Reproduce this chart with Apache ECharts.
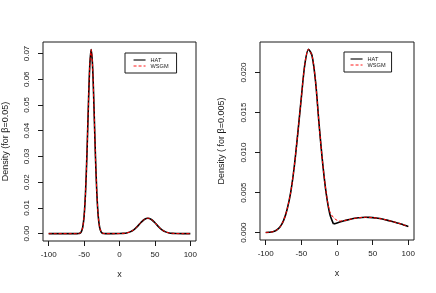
<!DOCTYPE html>
<html><head><meta charset="utf-8">
<script src="https://cdn.jsdelivr.net/npm/echarts@6/dist/echarts.min.js"></script>
<style>html,body{margin:0;padding:0;background:#fff}#c{width:436px;height:293px}</style>
</head><body><div id="c"></div>
<script>
// ---- tick labels ----
const xTicks = [-100, -50, 0, 50, 100];
const xTickLabels = ['-100', '-50', '0', '50', '100'];
const leftYTicks = [0, 0.01, 0.02, 0.03, 0.04, 0.05, 0.06, 0.07];
const leftYLabels = ['0.00', '0.01', '0.02', '0.03', '0.04', '0.05', '0.06', '0.07'];
const rightYTicks = [0, 0.005, 0.01, 0.015, 0.02];
const rightYLabels = ['0.000', '0.005', '0.010', '0.015', '0.020'];
const seriesNames = ['HAT', 'WSGM'];
const leftYTitle = 'Density (for \u03b2=0.05)';
const rightYTitle = 'Density ( for \u03b2=0.005)';
const xTitle = 'x';

// ---- left panel (beta = 0.05) ----
const leftX = [-100, -90, -80, -70, -62, -60, -58, -56, -54, -52, -50, -48, -46, -44, -42, -40, -38, -36, -34, -32, -30, -28, -26, -24, -22, -20, -10, 0, 5, 10, 15, 20, 25, 30, 35, 40, 45, 50, 55, 60, 65, 70, 75, 80, 90, 100];
const leftHAT = [0, 0, 0, 0, 0, 0.000006, 0.000034, 0.00017, 0.0007, 0.00238, 0.00673, 0.0158, 0.0305, 0.049, 0.0651, 0.0715, 0.0651, 0.049, 0.0305, 0.0158, 0.00673, 0.00238, 0.0007, 0.00017, 0.000034, 0.000005, 0.000001, 0.00003, 0.00009, 0.00026, 0.00068, 0.0015, 0.00275, 0.00424, 0.0055, 0.006, 0.0055, 0.00424, 0.00275, 0.0015, 0.00068, 0.00026, 0.00009, 0.00003, 0, 0];
const leftWSGM = [0, 0, 0, 0, 0, 0.000006, 0.000034, 0.00017, 0.0007, 0.00238, 0.00673, 0.0158, 0.0305, 0.049, 0.0651, 0.0715, 0.0651, 0.049, 0.0305, 0.0158, 0.00673, 0.00238, 0.0007, 0.00017, 0.000034, 0.000005, 0.000001, 0.00003, 0.00009, 0.00026, 0.00068, 0.0015, 0.00275, 0.00424, 0.0055, 0.006, 0.0055, 0.00424, 0.00275, 0.0015, 0.00068, 0.00026, 0.00009, 0.00003, 0, 0];

// ---- right panel (beta = 0.005) ----
const rightXa = [-100, -95, -90, -85, -80, -75, -70, -65, -60, -55, -50, -45, -40, -35, -30, -25, -20, -15, -10, -5];
const rightHATa = [0.00002, 0.00005, 0.00012, 0.0003, 0.0007, 0.0015, 0.0029, 0.005, 0.0082, 0.0124, 0.0169, 0.0211, 0.0229, 0.0221, 0.0188, 0.0134, 0.0086, 0.0048, 0.0023, 0.0011];
const rightXb = [-5, 0, 5, 10, 15, 20, 25, 30, 35, 40, 45, 50, 55, 60, 65, 70, 75, 80, 85, 90, 95, 100];
const rightHATb = [0.0011, 0.00122, 0.00136, 0.00149, 0.0016, 0.0017, 0.00179, 0.00186, 0.0019, 0.00192, 0.00191, 0.00188, 0.00183, 0.00176, 0.00167, 0.00157, 0.00146, 0.00134, 0.00121, 0.00108, 0.00092, 0.00076];
const rightX = [-100, -95, -90, -85, -80, -75, -70, -65, -60, -55, -50, -45, -40, -35, -30, -25, -20, -15, -10, -5, 0, 5, 10, 15, 20, 25, 30, 35, 40, 45, 50, 55, 60, 65, 70, 75, 80, 85, 90, 95, 100];
const rightWSGM = [0.00002, 0.00005, 0.00012, 0.0003, 0.0007, 0.0015, 0.0029, 0.005, 0.0082, 0.0124, 0.0169, 0.0211, 0.0229, 0.0221, 0.0188, 0.0134, 0.0086, 0.0049, 0.0026, 0.0019, 0.00155, 0.00145, 0.0015, 0.0016, 0.0017, 0.00179, 0.00186, 0.0019, 0.00192, 0.00191, 0.00188, 0.00183, 0.00176, 0.00167, 0.00157, 0.00146, 0.00134, 0.00121, 0.00108, 0.00092, 0.00076];

const FF = '"Liberation Sans", Arial, Helvetica, sans-serif';
const INK = '#1a1a1a';
const zip = (xs, ys) => xs.map((x, i) => [x, ys[i]]);
const lab = (ticks, labels) => v => { for (let i = 0; i < ticks.length; i++) if (Math.abs(ticks[i] - v) < 1e-9) return labels[i]; return ''; };

function xAxis(gi) {
  return {
    type: 'value', gridIndex: gi, min: -108, max: 108, position: 'bottom',
    axisLine: { show: false, onZero: false }, splitLine: { show: false },
    axisTick: { show: true, length: 5, customValues: xTicks, lineStyle: { color: INK, width: 1 } },
    axisLabel: { customValues: xTicks, margin: 10, fontSize: 8, color: INK, fontFamily: FF, formatter: lab(xTicks, xTickLabels) },
    name: xTitle, nameLocation: 'middle', nameGap: 29,
    nameTextStyle: { fontSize: 9, color: INK, fontFamily: FF }
  };
}
function yAxis(gi, min, max, ticks, labels, title, gap) {
  return {
    type: 'value', gridIndex: gi, min: min, max: max, position: 'left',
    axisLine: { show: false, onZero: false }, splitLine: { show: false },
    axisTick: { show: true, length: 5, customValues: ticks, lineStyle: { color: INK, width: 1 } },
    axisLabel: { customValues: ticks, rotate: 90, margin: 12, fontSize: 8, color: INK, fontFamily: FF, formatter: lab(ticks, labels) },
    name: title, nameLocation: 'middle', nameRotate: 90, nameGap: gap,
    nameTextStyle: { fontSize: 9, color: INK, fontFamily: FF }
  };
}
function legend(left, top, pad) {
  return {
    data: [
      { name: seriesNames[0], itemStyle: { opacity: 0 }, lineStyle: { width: 1.1, color: '#000' } },
      { name: seriesNames[1], itemStyle: { opacity: 0 }, lineStyle: { width: 0.9, color: '#ff0000', type: [3, 2] } }
    ],
    orient: 'vertical', left: left, top: top,
    padding: pad, itemGap: 0, itemWidth: 12, itemHeight: 5.6,
    borderColor: INK, borderWidth: 1, borderRadius: 0,
    textStyle: { fontSize: 5.6, lineHeight: 5.6, color: INK, fontFamily: FF },
    selectedMode: false
  };
}
const blackLine = { color: '#000', width: 1.6 };
const redLine = { color: '#ff0000', width: 1, type: [3, 2] };

const chart = echarts.init(document.getElementById('c'), null, { renderer: 'canvas' });
chart.setOption({
  animation: false,
  backgroundColor: '#ffffff',
  grid: [
    { left: 42, top: 42, width: 154, height: 199, show: true, borderColor: INK, borderWidth: 1, containLabel: false },
    { left: 260, top: 42, width: 154, height: 198, show: true, borderColor: INK, borderWidth: 1, containLabel: false }
  ],
  xAxis: [xAxis(0), xAxis(1)],
  yAxis: [
    yAxis(0, -0.00286, 0.07446, leftYTicks, leftYLabels, leftYTitle, 33),
    yAxis(1, -0.000916, 0.023816, rightYTicks, rightYLabels, rightYTitle, 34)
  ],
  legend: [legend(125, 53, [4, 8, 4, 8]), legend(344, 52, [4, 6, 4, 6])],
  series: [
    { name: 'HAT', type: 'line', xAxisIndex: 0, yAxisIndex: 0, data: zip(leftX, leftHAT), symbol: 'none', smooth: 0.3, lineStyle: blackLine, itemStyle: { color: '#000' }, z: 2 },
    { name: 'WSGM', type: 'line', xAxisIndex: 0, yAxisIndex: 0, data: zip(leftX, leftWSGM), symbol: 'none', smooth: 0.3, lineStyle: redLine, itemStyle: { color: '#ff0000' }, z: 3 },
    { name: 'HAT', type: 'line', xAxisIndex: 1, yAxisIndex: 1, data: zip(rightXa, rightHATa), symbol: 'none', smooth: 0.3, lineStyle: blackLine, itemStyle: { color: '#000' }, z: 2 },
    { name: 'HAT', type: 'line', xAxisIndex: 1, yAxisIndex: 1, data: zip(rightXb, rightHATb), symbol: 'none', smooth: 0.3, lineStyle: blackLine, itemStyle: { color: '#000' }, z: 2 },
    { name: 'WSGM', type: 'line', xAxisIndex: 1, yAxisIndex: 1, data: zip(rightX, rightWSGM), symbol: 'none', smooth: 0.3, lineStyle: redLine, itemStyle: { color: '#ff0000' }, z: 3 }
  ]
});
</script></body></html>
